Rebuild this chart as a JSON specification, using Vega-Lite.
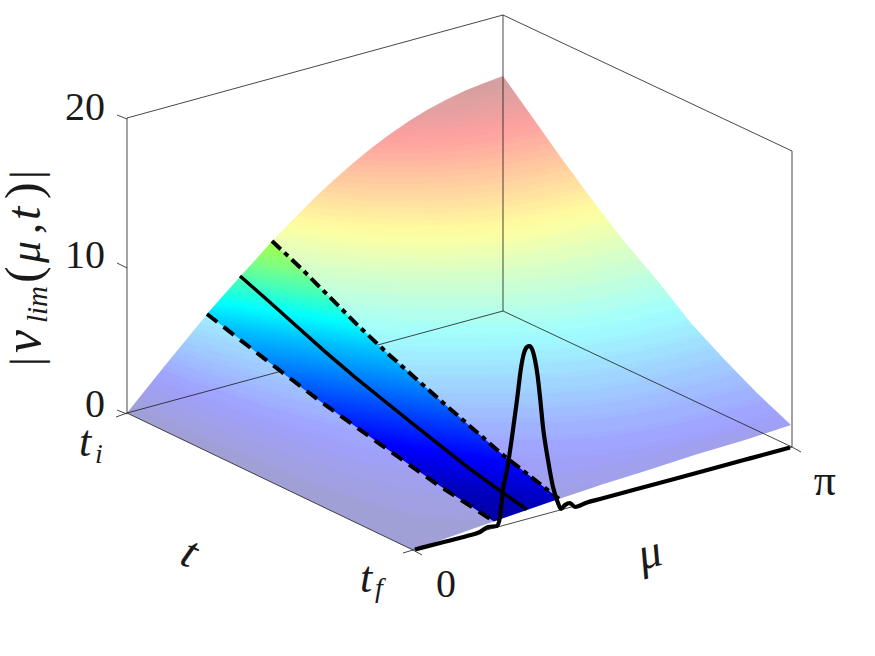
{"$schema":"https://vega.github.io/schema/vega-lite/v6.json","width":875,"height":656,"padding":0,"autosize":{"type":"none"},"background":"white","config":{"view":{"stroke":null}},
"datasets":{
"bands":[
{"h":0.25,"x":120,"y":600},{"h":0.25,"x":800,"y":600},
{"h":0.75,"x":134.5,"y":403.6},{"h":0.75,"x":255,"y":456.7},{"h":0.75,"x":353,"y":494.8},{"h":0.75,"x":435,"y":515.5},{"h":0.75,"x":501,"y":519},{"h":0.75,"x":501.1,"y":600},{"h":0.75,"x":800,"y":600},
{"h":1.25,"x":142,"y":394},{"h":1.25,"x":268.5,"y":445.9},{"h":1.25,"x":377.5,"y":480.7},{"h":1.25,"x":486,"y":494.3},{"h":1.25,"x":604,"y":483.6},{"h":1.25,"x":604.1,"y":600},{"h":1.25,"x":800,"y":600},
{"h":1.75,"x":149.6,"y":385},{"h":1.75,"x":282,"y":434.9},{"h":1.75,"x":403,"y":466.5},{"h":1.75,"x":542,"y":471.7},{"h":1.75,"x":790,"y":424.6},{"h":1.75,"x":790.1,"y":600},{"h":1.75,"x":800,"y":600},
{"h":2.25,"x":157,"y":375},{"h":2.25,"x":287,"y":421},{"h":2.25,"x":407,"y":449},{"h":2.25,"x":546,"y":453},{"h":2.25,"x":774,"y":411},
{"h":2.75,"x":164.5,"y":365.8},{"h":2.75,"x":292.3,"y":408.3},{"h":2.75,"x":411.9,"y":433.5},{"h":2.75,"x":551,"y":434.9},{"h":2.75,"x":760.5,"y":397.1},
{"h":3.25,"x":172,"y":356.5},{"h":3.25,"x":297.6,"y":395.5},{"h":3.25,"x":416.8,"y":418},{"h":3.25,"x":556,"y":416.8},{"h":3.25,"x":747,"y":383.2},
{"h":3.75,"x":179.8,"y":347},{"h":3.75,"x":302.5,"y":382.9},{"h":3.75,"x":419.3,"y":403.2},{"h":3.75,"x":548.7,"y":402.7},{"h":3.75,"x":734,"y":369.6},
{"h":4.25,"x":187.5,"y":337.6},{"h":4.25,"x":307.4,"y":370.3},{"h":4.25,"x":421.7,"y":388.3},{"h":4.25,"x":541.3,"y":388.5},{"h":4.25,"x":721,"y":356},
{"h":4.75,"x":195.3,"y":328.2},{"h":4.75,"x":313.2,"y":358.4},{"h":4.75,"x":426.4,"y":374.5},{"h":4.75,"x":544.5,"y":373.5},{"h":4.75,"x":711,"y":343.9},
{"h":5.25,"x":203,"y":318.7},{"h":5.25,"x":319,"y":346.5},{"h":5.25,"x":431,"y":360.6},{"h":5.25,"x":547.7,"y":358.5},{"h":5.25,"x":701,"y":331.8},
{"h":5.75,"x":211,"y":309.1},{"h":5.75,"x":323.9,"y":334.7},{"h":5.75,"x":433.9,"y":347},{"h":5.75,"x":544.9,"y":344.8},{"h":5.75,"x":690.5,"y":319.4},
{"h":6.25,"x":219,"y":299.5},{"h":6.25,"x":328.7,"y":322.8},{"h":6.25,"x":436.7,"y":333.3},{"h":6.25,"x":542,"y":331.1},{"h":6.25,"x":680,"y":307},
{"h":6.75,"x":227.2,"y":290},{"h":6.75,"x":333,"y":311},{"h":6.75,"x":438.6,"y":319.8},{"h":6.75,"x":540,"y":317.3},{"h":6.75,"x":669.4,"y":294.6},
{"h":7.25,"x":235.3,"y":280.4},{"h":7.25,"x":337.3,"y":299.3},{"h":7.25,"x":440.5,"y":306.3},{"h":7.25,"x":538,"y":303.4},{"h":7.25,"x":658.8,"y":282.2},
{"h":7.75,"x":243.7,"y":270.7},{"h":7.75,"x":341.2,"y":287.8},{"h":7.75,"x":441.8,"y":293},{"h":7.75,"x":534.8,"y":289.8},{"h":7.75,"x":648.4,"y":269.8},
{"h":8.25,"x":252,"y":261},{"h":8.25,"x":345,"y":276.3},{"h":8.25,"x":443,"y":279.8},{"h":8.25,"x":531.5,"y":276.2},{"h":8.25,"x":638,"y":257.4},
{"h":8.75,"x":261,"y":251.3},{"h":8.75,"x":349.3,"y":264.8},{"h":8.75,"x":439.9,"y":268.2},{"h":8.75,"x":524.8,"y":263.9},{"h":8.75,"x":627.9,"y":245.2},
{"h":9.25,"x":270,"y":241.5},{"h":9.25,"x":353.5,"y":253.2},{"h":9.25,"x":436.8,"y":256.5},{"h":9.25,"x":518,"y":251.6},{"h":9.25,"x":617.8,"y":233},
{"h":9.75,"x":279.4,"y":231.6},{"h":9.75,"x":358.2,"y":241.5},{"h":9.75,"x":435.4,"y":244.2},{"h":9.75,"x":509.9,"y":239.7},{"h":9.75,"x":607.8,"y":220.9},
{"h":10.25,"x":288.7,"y":221.6},{"h":10.25,"x":362.7,"y":229.8},{"h":10.25,"x":434,"y":231.8},{"h":10.25,"x":501.7,"y":227.7},{"h":10.25,"x":597.7,"y":208.7},
{"h":10.75,"x":298.4,"y":211.6},{"h":10.75,"x":369.1,"y":218.5},{"h":10.75,"x":436.4,"y":219.9},{"h":10.75,"x":502.6,"y":215},{"h":10.75,"x":590.3,"y":197.8},
{"h":11.25,"x":308,"y":201.6},{"h":11.25,"x":375.5,"y":207.2},{"h":11.25,"x":438.7,"y":208},{"h":11.25,"x":503.4,"y":202.4},{"h":11.25,"x":582.8,"y":186.9},
{"h":11.75,"x":319,"y":191.3},{"h":11.75,"x":381.9,"y":195.7},{"h":11.75,"x":442.4,"y":195.4},{"h":11.75,"x":501.7,"y":190},{"h":11.75,"x":574.8,"y":175.7},
{"h":12.25,"x":330,"y":181},{"h":12.25,"x":388.3,"y":184.2},{"h":12.25,"x":446,"y":182.7},{"h":12.25,"x":500,"y":177.7},{"h":12.25,"x":566.7,"y":164.4},
{"h":12.75,"x":342.3,"y":170.3},{"h":12.75,"x":395.2,"y":172.6},{"h":12.75,"x":448.2,"y":170.9},{"h":12.75,"x":497.7,"y":165.8},{"h":12.75,"x":558.9,"y":153.4},
{"h":13.25,"x":354.5,"y":159.6},{"h":13.25,"x":402,"y":161},{"h":13.25,"x":450.4,"y":159},{"h":13.25,"x":495.3,"y":153.9},{"h":13.25,"x":551,"y":142.3},
{"h":13.75,"x":368,"y":148.6},{"h":13.75,"x":411.8,"y":148.5},{"h":13.75,"x":452.9,"y":146.5},{"h":13.75,"x":494.6,"y":141.1},{"h":13.75,"x":542.8,"y":131},
{"h":14.25,"x":381.6,"y":137.5},{"h":14.25,"x":421.6,"y":136},{"h":14.25,"x":455.4,"y":133.9},{"h":14.25,"x":493.8,"y":128.3},{"h":14.25,"x":534.6,"y":119.6},
{"h":14.75,"x":400,"y":125.1},{"h":14.75,"x":431.6,"y":123.6},{"h":14.75,"x":460.4,"y":121.2},{"h":14.75,"x":491.5,"y":116.3},{"h":14.75,"x":526.8,"y":108.6},
{"h":15.25,"x":418.4,"y":112.7},{"h":15.25,"x":441.6,"y":111.1},{"h":15.25,"x":465.3,"y":108.4},{"h":15.25,"x":489.2,"y":104.3},{"h":15.25,"x":519,"y":97.5},
{"h":15.75,"x":460,"y":94},{"h":15.75,"x":472,"y":93.5},{"h":15.75,"x":484,"y":92},{"h":15.75,"x":496,"y":90},{"h":15.75,"x":511,"y":87}
],
"upper":[{"x":0,"y":656},{"x":126.9,"y":656},{"x":127,"y":413},{"x":145.8,"y":389.5},{"x":164.6,"y":366},{"x":183.4,"y":343},{"x":202.2,"y":320},{"x":221,"y":297.5},{"x":239.8,"y":276.5},{"x":258.6,"y":256},{"x":277.4,"y":235.5},{"x":296.2,"y":216.5},{"x":315,"y":197.5},{"x":333.8,"y":180},{"x":352.6,"y":163.5},{"x":371.4,"y":148},{"x":390.2,"y":134},{"x":409,"y":121},{"x":427.8,"y":109.5},{"x":446.6,"y":99.5},{"x":465.4,"y":90.5},{"x":484.2,"y":83},{"x":503,"y":76},{"x":523,"y":104},{"x":557,"y":152},{"x":590,"y":197},{"x":623,"y":240},{"x":657,"y":280},{"x":690,"y":322},{"x":723,"y":358},{"x":757,"y":393},{"x":791,"y":425},{"x":791.1,"y":656},{"x":875,"y":656}],
"lower":[{"x":0,"y":413},{"x":127,"y":413},{"x":413,"y":550},{"x":461,"y":533},{"x":508,"y":516.6},{"x":559,"y":499},{"x":602,"y":484.4},{"x":650,"y":469.5},{"x":696,"y":454.5},{"x":745,"y":440},{"x":791,"y":425},{"x":875,"y":425}],
"frame":[
{"x":127,"y":118,"x2":127,"y2":413},{"x":127,"y":118,"x2":503,"y2":15},{"x":503,"y":15,"x2":503,"y2":311},{"x":503,"y":15,"x2":792,"y2":151},{"x":792,"y":151,"x2":792,"y2":447},{"x":127,"y":413,"x2":503,"y2":311},{"x":503,"y":311,"x2":792,"y2":447},{"x":127,"y":413,"x2":413,"y2":550},{"x":413,"y":550,"x2":792,"y2":447},
{"x":117,"y":115,"x2":127,"y2":119},{"x":117,"y":263,"x2":127,"y2":268},{"x":117,"y":410,"x2":127,"y2":414},{"x":116,"y":417,"x2":127,"y2":413},{"x":403,"y":553,"x2":413,"y2":550},{"x":413,"y":550,"x2":422,"y2":555},{"x":792,"y":447,"x2":801,"y2":452}
],
"strip":[{"x":207,"y":314,"y2":314},{"x":240,"y":339.3,"y2":277},{"x":264.4,"y":358.7,"y2":250},{"x":272,"y":364.5,"y2":241},{"x":300.7,"y":387,"y2":268},{"x":329.4,"y":408,"y2":296.7},{"x":358.1,"y":428.3,"y2":325.6},{"x":386.8,"y":448.8,"y2":352.7},{"x":415.5,"y":469,"y2":378.2},{"x":444.2,"y":488.8,"y2":403.7},{"x":472.9,"y":507.6,"y2":428.7},{"x":494,"y":521.5,"y2":447},{"x":501.6,"y":518.8,"y2":453.8},{"x":530.3,"y":508.8,"y2":476.3},{"x":559,"y":498.8,"y2":498.8}],
"curves":[
{"c":"dash","x":207,"y":314},{"c":"dash","x":264.4,"y":358.7},{"c":"dash","x":321.8,"y":402.5},{"c":"dash","x":379.2,"y":443.5},{"c":"dash","x":436.6,"y":484},{"c":"dash","x":494,"y":521.5},
{"c":"solid","x":240,"y":276},{"c":"solid","x":268.5,"y":301},{"c":"solid","x":297.2,"y":326.8},{"c":"solid","x":325.9,"y":352.4},{"c":"solid","x":354.6,"y":376.9},{"c":"solid","x":383.3,"y":400},{"c":"solid","x":412,"y":423.1},{"c":"solid","x":440.7,"y":445.8},{"c":"solid","x":469.4,"y":468.5},{"c":"solid","x":498.1,"y":489.3},{"c":"solid","x":526.8,"y":509.5},
{"c":"dashdot","x":272,"y":241},{"c":"dashdot","x":300.7,"y":267.9},{"c":"dashdot","x":329.4,"y":296.7},{"c":"dashdot","x":358.1,"y":325.6},{"c":"dashdot","x":386.8,"y":352.7},{"c":"dashdot","x":415.5,"y":378.2},{"c":"dashdot","x":444.2,"y":403.7},{"c":"dashdot","x":472.9,"y":428.7},{"c":"dashdot","x":501.6,"y":453.8},{"c":"dashdot","x":530.3,"y":476.3},{"c":"dashdot","x":559,"y":498.8},
{"c":"peak","x":415,"y":549.5},{"c":"peak","x":440,"y":543},{"c":"peak","x":467,"y":536},{"c":"peak","x":480,"y":532},{"c":"peak","x":488,"y":527},{"c":"peak","x":497,"y":526},{"c":"peak","x":500,"y":517},{"c":"peak","x":503,"y":490},{"c":"peak","x":507,"y":470},{"c":"peak","x":512,"y":437},{"c":"peak","x":517,"y":400},{"c":"peak","x":521,"y":368},{"c":"peak","x":524,"y":353},{"c":"peak","x":527,"y":347},{"c":"peak","x":529.5,"y":346},{"c":"peak","x":532,"y":349},{"c":"peak","x":535,"y":360},{"c":"peak","x":537.5,"y":375},{"c":"peak","x":540,"y":397},{"c":"peak","x":543,"y":427},{"c":"peak","x":548,"y":460},{"c":"peak","x":553,"y":487},{"c":"peak","x":558,"y":503},{"c":"peak","x":561,"y":509},{"c":"peak","x":565,"y":505},{"c":"peak","x":570,"y":503},{"c":"peak","x":575,"y":507},{"c":"peak","x":587,"y":502.5},{"c":"peak","x":600,"y":499},{"c":"peak","x":650,"y":485.5},{"c":"peak","x":700,"y":472},{"c":"peak","x":750,"y":458.4},{"c":"peak","x":790,"y":447.5}
],
"ticklabels":[{"x":105,"y":120,"t":"20","s":40},{"x":105,"y":268,"t":"10","s":40},{"x":105,"y":417,"t":"0","s":40},{"x":456,"y":597,"t":"0","s":40},{"x":836,"y":495,"t":"π","s":44}],
"ital":[{"x":79,"y":456,"t":"t","s":44},{"x":95,"y":463,"t":"i","s":28},{"x":360,"y":592,"t":"t","s":44},{"x":375,"y":597,"t":"f","s":28}],
"ylabel":[{"x":41,"y":366,"t":"|","s":44,"f":"normal"},{"x":40,"y":353,"t":"v","s":52,"f":"italic"},{"x":47,"y":323,"t":"lim","s":29,"f":"italic"},{"x":40,"y":283,"t":"(","s":50,"f":"normal"},{"x":40,"y":263,"t":"μ","s":44,"f":"italic"},{"x":40,"y":234,"t":",","s":44,"f":"normal"},{"x":40,"y":220,"t":"t","s":48,"f":"italic"},{"x":40,"y":199,"t":")","s":50,"f":"normal"},{"x":41,"y":179,"t":"|","s":44,"f":"normal"}]
},
"encoding":{"x":{"field":"x","type":"quantitative","axis":null,"scale":{"domain":[0,875],"nice":false,"zero":false}},"y":{"field":"y","type":"quantitative","axis":null,"scale":{"domain":[656,0],"nice":false,"zero":false}}},
"layer":[
{"data":{"name":"bands"},"mark":{"type":"area","interpolate":"monotone","strokeWidth":10,"strokeOpacity":0.5},"encoding":{"y2":{"datum":0},"detail":{"field":"h","type":"nominal"},"color":{"field":"h","type":"quantitative","legend":null,"scale":{"domain":[0,2,6,10,14,16],"range":["#a0a0d0","#a0a0ff","#a0ffff","#ffffa0","#ffa0a0","#d0a0a0"],"interpolate":"rgb"}},"stroke":{"field":"h","type":"quantitative","legend":null,"scale":{"domain":[0,2,6,10,14,16],"range":["#a0a0d0","#a0a0ff","#a0ffff","#ffffa0","#ffa0a0","#d0a0a0"],"interpolate":"rgb"}}}},
{"data":{"name":"upper"},"mark":{"type":"area","color":"white"},"encoding":{"y2":{"datum":0}}},
{"data":{"name":"lower"},"mark":{"type":"area","color":"white"},"encoding":{"y2":{"datum":656}}},
{"data":{"name":"frame"},"mark":{"type":"rule","color":"#1a1a1a","strokeWidth":1,"opacity":0.8},"encoding":{"x2":{"field":"x2"},"y2":{"field":"y2"}}},
{"data":{"name":"strip"},"mark":{"type":"area","color":{"gradient":"linear","x1":0.595,"y1":0,"x2":0.405,"y2":1,"stops":[{"offset":0,"color":"#c8ff30"},{"offset":0.075,"color":"#a6ff46"},{"offset":0.157,"color":"#80ff80"},{"offset":0.238,"color":"#40ffbf"},{"offset":0.315,"color":"#00ffff"},{"offset":0.4,"color":"#00bfff"},{"offset":0.5,"color":"#0080ff"},{"offset":0.603,"color":"#0040ff"},{"offset":0.714,"color":"#0000ff"},{"offset":0.829,"color":"#0000bf"},{"offset":0.926,"color":"#00009f"},{"offset":1,"color":"#00008f"}]}},"encoding":{"y2":{"field":"y2"}}},
{"data":{"name":"curves"},"transform":[{"filter":"datum.c==='dash'"}],"mark":{"type":"line","color":"black","strokeWidth":4,"strokeDash":[13,8]}},
{"data":{"name":"curves"},"transform":[{"filter":"datum.c==='dashdot'"}],"mark":{"type":"line","color":"black","strokeWidth":4,"strokeDash":[12,5,5,5]}},
{"data":{"name":"curves"},"transform":[{"filter":"datum.c==='solid'"}],"mark":{"type":"line","color":"black","strokeWidth":3.5}},
{"data":{"name":"curves"},"transform":[{"filter":"datum.c==='peak'"}],"mark":{"type":"line","color":"black","strokeWidth":4.2,"interpolate":"monotone"}},
{"data":{"name":"ticklabels"},"mark":{"type":"text","font":"Liberation Serif","align":"right","baseline":"alphabetic","color":"#1a1a1a"},"encoding":{"text":{"field":"t"},"size":{"field":"s","type":"quantitative","scale":null,"legend":null}}},
{"data":{"name":"ital"},"mark":{"type":"text","font":"Liberation Serif","fontStyle":"italic","align":"left","baseline":"alphabetic","color":"#1a1a1a"},"encoding":{"text":{"field":"t"},"size":{"field":"s","type":"quantitative","scale":null,"legend":null}}},
{"data":{"values":[{"x":178,"y":563,"t":"t"}]},"mark":{"type":"text","font":"Liberation Serif","fontStyle":"italic","fontSize":46,"align":"left","baseline":"alphabetic","angle":25,"color":"#1a1a1a"},"encoding":{"text":{"field":"t"}}},
{"data":{"values":[{"x":642,"y":570,"t":"μ"}]},"mark":{"type":"text","font":"Liberation Serif","fontStyle":"italic","fontSize":46,"align":"left","baseline":"alphabetic","angle":345,"color":"#1a1a1a"},"encoding":{"text":{"field":"t"}}},
{"data":{"name":"ylabel"},"transform":[{"filter":"datum.f==='normal'"}],"mark":{"type":"text","font":"Liberation Serif","align":"left","baseline":"alphabetic","angle":270,"color":"#1a1a1a"},"encoding":{"text":{"field":"t"},"size":{"field":"s","type":"quantitative","scale":null,"legend":null}}},
{"data":{"name":"ylabel"},"transform":[{"filter":"datum.f==='italic'"}],"mark":{"type":"text","font":"Liberation Serif","fontStyle":"italic","align":"left","baseline":"alphabetic","angle":270,"color":"#1a1a1a"},"encoding":{"text":{"field":"t"},"size":{"field":"s","type":"quantitative","scale":null,"legend":null}}}
]}
